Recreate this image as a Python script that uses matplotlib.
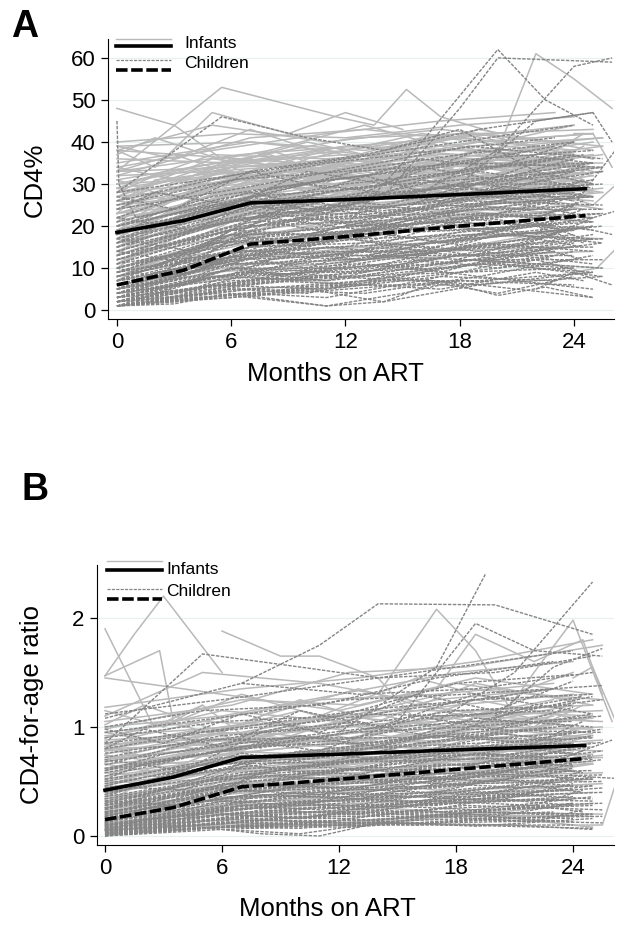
import matplotlib
matplotlib.use('Agg')
import matplotlib.pyplot as plt
from matplotlib.lines import Line2D

plt.rcParams['font.family'] = ['Liberation Sans', 'DejaVu Sans']

FIG_W = 629
FIG_H = 931

# visit schedules, months on ART
visits = [
	[0, 6, 12, 18, 24],
	[0, 7, 13, 19, 25],
	[0, 5, 11, 17, 23],
	[0, 6.5, 12.5, 18.5, 25.5],
]
visits_long = [
	[0, 3, 7, 11, 16, 20, 24],
	[0, 2, 6, 10, 14, 19, 25],
	[0, 4, 8, 13, 17, 22, 24.5],
]

# panel A, CD4% at each visit
infants_a = [
	[40,42,41,44,46],[39,40,38,42,43],[38,44,40,43,40],[38,36,41,42,39],[36,35,39,41,44],
	[35,40,37,40,42],[34,38,42,45,47],[33,37,39,38,41],[33,34,36,41,38],[32,41,43,40,42],
	[32,33,35,37,36],[31,36,34,39,41],[30,35,38,42,37],[30,32,37,36,40],[29,37,36,38,38],
	[29,33,33,35,39],[28,34,39,37,35],[28,31,35,40,36],[27,36,33,36,34],[27,30,34,33,37],
	[26,35,37,35,40],[26,32,32,38,33],[25,29,36,34,36],[25,33,31,35,35],[24,34,35,32,38],
	[24,30,33,37,32],[23,28,31,33,36],[23,32,34,31,34],[22,31,30,36,35],[22,27,35,34,30],
	[21,33,29,32,37],[21,29,32,30,33],[20,26,33,35,31],[20,30,28,34,34],[19,31,34,29,36],
	[19,25,30,33,28],[18,28,27,31,35],[18,27,31,28,32],[17,29,26,32,30],[17,24,29,30,33],
	[16,28,32,27,31],[16,23,28,31,27],[15,26,25,29,32],[15,25,30,26,29],[14,22,27,30,28],
	[14,24,24,28,26],[13,21,26,25,30],[13,23,23,29,24],[12,20,25,27,27],[12,19,22,24,25],
	[11,21,24,26,23],[10,18,20,25,28],[10,17,21,22,24],[9,16,19,23,21],[8,15,18,20,22],
	[8,14,15,18,17],[7,12,14,17,19],[6,11,12,13,14],[5,9,11,14,15],[4,8,6,12,10],
]
infants_a_long = [
	[39,36,43,37,42,40,44],[37,41,35,40,36,43,38],[34,30,38,44,39,35,42],[33,37,31,35,41,37,40],
	[31,28,36,33,38,42,36],[30,34,37,30,35,33,39],[29,26,33,38,32,37,34],[28,32,29,36,40,34,37],
	[27,33,36,31,34,39,33],[26,24,31,35,30,36,38],[26,30,34,28,37,32,35],[25,27,35,33,29,35,31],
	[24,29,27,34,36,30,36],[23,31,33,29,32,38,34],[23,25,30,36,33,28,32],[22,26,32,27,35,34,37],
	[21,28,25,32,31,36,30],[20,24,31,34,28,33,35],[20,27,29,26,33,30,32],[19,22,28,31,35,29,34],
	[18,25,30,27,29,34,31],[18,21,26,33,30,27,33],[17,23,29,25,32,31,28],[16,20,27,30,26,33,30],
	[16,24,25,28,31,28,34],[15,19,28,26,29,32,27],[14,22,24,29,27,30,33],[14,18,26,23,30,26,29],
	[13,20,23,27,25,31,28],[12,17,25,24,28,27,30],[11,19,22,26,24,29,26],[10,16,21,23,27,25,31],
	[9,14,20,25,22,26,24],[8,13,17,21,24,23,28],[7,12,18,16,21,24,22],[5,10,13,15,14,18,20],
]
infants_a_x = [[0,5.5,11.5,13.5,15.2,17,20],[0,3,5.5,8,11,14],[18,20,22,24,26],[0,2,5,9,12,15],[24,25,26],[23,25,26.5],[24,25.2,26.5]]
infants_a_y = [[33,53,46,44,52.5,46,42],[48,44,36,38,34,37],[38,38,61,55,48],[38,34,47,42,47,43],[42,42,34],[28,25,31],[9,10,16]]

children_a = [
	[28,32,36,40,44],[26,33,37,43,47],[25,30,35,38,41],[24,29,34,39,36],[22,31,33,37,40],
	[21,28,32,36,38],[20,27,31,34,39],[20,26,33,35,34],[19,25,30,33,37],[18,27,29,34,35],
	[18,24,28,32,36],[17,26,27,30,34],[17,23,29,31,33],[16,22,26,31,35],[16,25,24,29,32],
	[15,24,27,28,33],[15,21,25,30,30],[14,23,24,27,31],[14,20,26,29,28],[13,22,23,28,30],
	[13,19,24,26,29],[12,21,22,27,27],[12,18,25,24,28],[11,20,21,26,25],[11,19,23,25,28],
	[10,18,20,25,27],[10,17,22,23,26],[10,16,19,24,24],[9,18,18,22,25],[9,15,21,23,22],
	[9,16,17,20,26],[8,17,19,22,23],[8,14,20,21,24],[8,15,16,19,21],[7,16,18,21,20],
	[7,13,19,20,23],[7,14,15,22,19],[6,15,17,18,22],[6,12,16,20,18],[6,13,14,17,20],
	[6,11,18,19,21],[5,14,13,18,17],[5,12,15,16,19],[5,10,14,19,16],[5,11,12,15,18],
	[4,13,12,17,20],[4,10,14,14,16],[4,9,11,15,17],[4,12,13,13,15],[4,8,10,16,14],
	[3,11,11,14,18],[3,9,13,12,16],[3,10,9,13,13],[3,7,12,15,15],[3,8,10,11,14],
	[3,9,8,12,12],[2,10,10,13,15],[2,7,9,14,11],[2,8,7,10,13],[2,6,9,12,10],
	[2,7,8,9,12],[2,5,7,11,9],[1,8,9,10,14],[1,6,8,12,8],[1,5,6,9,10],
	[1,4,7,7,9],[1,6,5,8,7],[1,4,6,6,8],[1,3,5,7,6],[1,5,4,8,5],
]
children_a_long = [
	[27,24,33,29,36,34,40],[24,28,25,33,30,38,35],[22,19,29,32,27,35,37],[20,23,28,24,34,31,36],
	[18,22,26,30,28,33,29],[17,14,24,28,26,32,34],[16,20,27,23,31,28,33],[15,18,22,27,25,30,27],
	[14,11,23,20,28,26,31],[13,17,25,22,24,29,26],[12,15,20,26,23,27,30],[11,14,22,19,25,24,28],
	[10,13,18,24,21,26,23],[10,8,19,22,20,25,27],[9,12,21,17,23,22,26],[8,11,17,20,24,19,25],
	[8,10,19,18,16,23,21],[7,9,16,21,19,20,24],[7,12,14,17,22,18,20],[6,8,18,15,20,22,19],
	[6,10,13,19,16,21,17],[5,7,15,18,14,19,22],[5,9,12,16,18,15,20],[4,8,14,12,17,20,16],
	[4,6,11,15,13,18,19],[4,7,13,10,16,14,18],[3,5,12,14,11,17,15],[3,6,9,13,15,12,16],
	[3,4,10,8,14,13,17],[2,5,8,11,9,15,12],[2,3,9,7,12,10,14],[2,4,6,9,11,8,13],
	[2,5,7,6,10,12,9],[1,3,6,8,7,11,10],[1,2,5,4,8,6,9],[1,3,4,6,5,9,7],
	[1,2,4,3,7,4,8],[1,2,3,5,2,6,3],
]
children_a_x = [[0,0.1,1,3],[0,5.5,10,14,18,22,25],[12,16,20,22.5,25],[14,18,20,26],[16,20,24,26],[18,22,25,26],[0,5,11,15,18],[0,3,6,11,14,17,20,22.5,25],[20,23,25,26.5],[21,24,26],[22,24,26.5],[22,24,26]]
children_a_y = [[45,30,22,24],[28,46,41,38,43,33,30],[20,40,62,50,44],[27,48,60,59],[28,38,58,60],[30,45,47,40],[2,4,1,4,7],[1,1.5,4,1,2,7,3.5,5.5,3],[14,18,22,24],[15,20,18],[18,25,40],[5,9,6]]

# panel B, CD4-for-age ratio at each visit
infants_b = [
	[1.45,1.3,1.15,1.4,1.25],[1.18,1.35,1.45,1.6,1.8],[1.1,1.5,1.4,1.2,1.35],[1.05,1.2,1.5,1.55,1.75],[1.0,1.1,1.3,1.5,1.6],
	[0.98,1.25,1.2,1.45,1.3],[0.95,1.05,1.25,1.3,1.4],[0.92,1.0,1.1,1.35,1.25],[0.9,1.15,1.05,1.2,1.3],[0.88,0.95,1.15,1.15,1.2],
	[0.85,1.05,1.0,1.25,1.35],[0.84,0.9,1.0,1.1,1.15],[0.82,0.98,1.1,1.0,1.2],[0.8,0.85,0.95,1.15,1.1],[0.8,0.92,1.0,1.05,1.25],
	[0.78,0.88,0.9,1.1,1.05],[0.75,0.95,0.85,0.98,1.15],[0.72,0.82,0.95,1.0,0.98],[0.7,0.8,0.88,0.92,1.1],[0.68,0.9,0.8,0.95,1.0],
	[0.66,0.75,0.85,0.88,0.95],[0.62,0.72,0.8,1.0,0.9],[0.6,0.78,0.75,0.85,1.02],[0.58,0.7,0.82,0.8,0.88],[0.55,0.68,0.72,0.9,0.85],
	[0.52,0.74,0.7,0.78,0.92],[0.5,0.65,0.78,0.75,0.8],[0.48,0.6,0.68,0.82,0.78],[0.46,0.7,0.65,0.72,0.85],[0.44,0.62,0.72,0.7,0.75],
	[0.42,0.58,0.62,0.76,0.82],[0.4,0.55,0.7,0.68,0.72],[0.38,0.6,0.6,0.65,0.8],[0.36,0.52,0.58,0.72,0.68],[0.34,0.5,0.65,0.6,0.7],
	[0.32,0.48,0.55,0.62,0.74],[0.3,0.55,0.52,0.58,0.64],[0.28,0.45,0.5,0.6,0.66],[0.26,0.42,0.56,0.52,0.62],[0.24,0.4,0.48,0.55,0.58],
	[0.22,0.38,0.45,0.5,0.6],[0.2,0.36,0.42,0.48,0.52],[0.18,0.35,0.38,0.46,0.55],[0.16,0.3,0.36,0.42,0.48],[0.14,0.28,0.32,0.38,0.42],
	[0.12,0.25,0.3,0.34,0.4],[0.1,0.2,0.22,0.3,0.34],[0.08,0.15,0.12,0.22,0.2],[0.06,0.1,0.1,0.18,0.18],[0.05,0.12,0.09,0.2,0.08],
]
infants_b_long = [
	[1.15,1.0,1.3,1.1,1.45,1.25,1.5],[1.02,1.2,0.95,1.25,1.05,1.4,1.2],[0.95,0.82,1.1,1.35,1.15,1.0,1.3],[0.9,1.05,0.88,1.0,1.2,1.1,1.15],
	[0.86,0.72,0.98,1.15,0.95,1.25,1.05],[0.82,0.95,1.05,0.88,1.1,0.98,1.2],[0.8,0.7,0.9,1.08,0.92,1.15,1.0],[0.78,0.88,0.82,0.98,1.12,0.9,1.1],
	[0.74,0.66,0.95,0.85,1.0,1.08,0.95],[0.7,0.82,0.78,1.0,0.88,1.05,0.9],[0.66,0.6,0.85,0.92,0.8,1.0,1.08],[0.62,0.76,0.9,0.78,0.95,0.86,1.0],
	[0.58,0.54,0.8,0.88,0.76,0.95,0.85],[0.54,0.7,0.74,0.82,0.9,0.8,0.94],[0.5,0.48,0.72,0.68,0.85,0.76,0.9],[0.46,0.62,0.68,0.76,0.7,0.88,0.78],
	[0.42,0.44,0.75,0.64,0.78,0.7,0.86],[0.38,0.56,0.6,0.72,0.66,0.82,0.72],[0.34,0.4,0.64,0.58,0.74,0.68,0.8],[0.3,0.5,0.52,0.66,0.6,0.76,0.66],
	[0.26,0.34,0.58,0.5,0.68,0.56,0.72],[0.22,0.42,0.46,0.6,0.52,0.7,0.6],[0.18,0.28,0.5,0.44,0.6,0.5,0.66],[0.14,0.3,0.36,0.5,0.42,0.58,0.5],
	[0.1,0.18,0.3,0.36,0.32,0.4,0.46],[0.06,0.12,0.2,0.16,0.26,0.2,0.3],
]
infants_b_x = [[0,2.5,5,8],[0,2.8,3.5,5],[0,1.5,3,6],[6,9,11,14,16],[14,17,19,21],[20,22,24,26],[24,25,26.5],[0,6,11,14,18,23],[17,19,22,24.5,25.5],[24,25.5,26.5]]
infants_b_y = [[1.9,1.0,1.2,0.8],[1.47,1.7,1.05,1.2],[1.47,1.85,2.2,1.5],[1.88,1.65,1.65,1.45,1.05],[1.3,2.08,1.7,1.1],[1.0,1.5,1.98,1.05],[1.45,1.55,0.92],[0.12,0.08,0.1,0.15,0.2,0.18],[1.35,1.85,1.6,1.8,1.3],[0.1,0.1,0.65]]

children_b = [
	[1.12,1.25,1.4,1.55,1.7],[1.08,1.4,1.3,1.35,1.5],[1.0,1.15,1.2,1.45,1.6],[0.95,1.1,1.25,1.3,1.38],[0.9,1.05,1.1,1.4,1.48],
	[0.85,1.0,1.15,1.25,1.3],[0.8,0.95,1.05,1.2,1.35],[0.76,0.9,1.12,1.1,1.25],[0.72,0.92,1.0,1.15,1.2],[0.68,0.85,0.98,1.05,1.28],
	[0.65,0.88,0.9,1.1,1.15],[0.62,0.8,0.95,1.0,1.1],[0.6,0.78,0.88,1.05,1.05],[0.58,0.82,0.85,0.95,1.12],[0.55,0.75,0.9,0.9,1.0],
	[0.52,0.7,0.82,0.98,0.95],[0.5,0.72,0.78,0.88,1.02],[0.48,0.68,0.8,0.85,0.9],[0.46,0.65,0.72,0.92,0.88],[0.44,0.62,0.75,0.8,0.98],
	[0.42,0.66,0.68,0.82,0.85],[0.4,0.58,0.7,0.75,0.92],[0.38,0.6,0.65,0.78,0.8],[0.36,0.55,0.68,0.7,0.86],[0.34,0.52,0.6,0.74,0.76],
	[0.32,0.56,0.62,0.66,0.82],[0.3,0.5,0.58,0.7,0.72],[0.29,0.48,0.6,0.62,0.78],[0.28,0.45,0.52,0.66,0.68],[0.26,0.5,0.55,0.58,0.74],
	[0.25,0.42,0.5,0.62,0.66],[0.24,0.46,0.48,0.56,0.7],[0.22,0.4,0.52,0.52,0.62],[0.21,0.44,0.45,0.58,0.6],[0.2,0.38,0.48,0.5,0.65],
	[0.19,0.36,0.42,0.54,0.56],[0.18,0.4,0.44,0.46,0.6],[0.17,0.34,0.4,0.5,0.52],[0.16,0.32,0.42,0.44,0.58],[0.15,0.36,0.36,0.48,0.5],
	[0.14,0.3,0.38,0.4,0.54],[0.13,0.28,0.34,0.44,0.46],[0.12,0.32,0.32,0.38,0.5],[0.11,0.26,0.36,0.36,0.44],[0.1,0.24,0.3,0.4,0.42],
	[0.09,0.28,0.28,0.34,0.46],[0.09,0.22,0.32,0.32,0.38],[0.08,0.25,0.26,0.36,0.4],[0.07,0.2,0.28,0.3,0.36],[0.07,0.22,0.22,0.34,0.32],
	[0.06,0.18,0.26,0.28,0.42],[0.05,0.2,0.2,0.26,0.3],[0.05,0.16,0.24,0.3,0.34],[0.04,0.18,0.18,0.24,0.28],[0.04,0.14,0.22,0.22,0.26],
	[0.03,0.16,0.16,0.28,0.24],[0.03,0.12,0.2,0.2,0.3],[0.02,0.14,0.14,0.22,0.2],[0.02,0.1,0.18,0.18,0.22],[0.02,0.12,0.12,0.16,0.18],
	[0.01,0.08,0.14,0.18,0.16],[0.01,0.1,0.1,0.14,0.2],[0.01,0.07,0.12,0.12,0.14],[0.0,0.09,0.08,0.15,0.12],[0.0,0.06,0.1,0.1,0.1],
]
children_b_long = [
	[0.98,0.85,1.12,0.95,1.3,1.15,1.42],[0.8,0.98,0.82,1.15,1.0,1.3,1.12],[0.7,0.6,0.95,1.05,0.9,1.2,1.28],[0.6,0.75,0.88,0.78,1.1,0.98,1.18],
	[0.52,0.66,0.78,0.92,0.82,1.08,1.0],[0.46,0.42,0.7,0.82,0.92,0.85,1.05],[0.4,0.55,0.76,0.66,0.85,0.94,0.88],[0.36,0.48,0.62,0.78,0.7,0.88,0.96],
	[0.32,0.28,0.58,0.68,0.76,0.72,0.84],[0.28,0.42,0.66,0.56,0.72,0.82,0.76],[0.25,0.36,0.5,0.64,0.6,0.76,0.7],[0.22,0.3,0.56,0.5,0.66,0.62,0.78],
	[0.2,0.34,0.44,0.58,0.54,0.7,0.64],[0.18,0.24,0.48,0.46,0.6,0.56,0.72],[0.16,0.28,0.4,0.52,0.48,0.64,0.58],[0.14,0.2,0.42,0.38,0.54,0.5,0.66],
	[0.12,0.25,0.34,0.46,0.42,0.58,0.52],[0.1,0.16,0.38,0.34,0.48,0.44,0.6],[0.09,0.2,0.3,0.4,0.36,0.52,0.46],[0.08,0.14,0.32,0.28,0.42,0.38,0.54],
	[0.07,0.18,0.26,0.34,0.3,0.46,0.4],[0.06,0.12,0.28,0.24,0.36,0.32,0.48],[0.05,0.15,0.22,0.3,0.26,0.4,0.34],[0.05,0.1,0.24,0.2,0.32,0.28,0.42],
	[0.04,0.12,0.18,0.26,0.22,0.34,0.28],[0.03,0.08,0.2,0.16,0.28,0.24,0.36],[0.03,0.1,0.14,0.22,0.18,0.28,0.22],[0.02,0.06,0.16,0.12,0.24,0.18,0.3],
	[0.02,0.08,0.11,0.18,0.14,0.22,0.18],[0.01,0.05,0.12,0.09,0.18,0.13,0.24],[0.01,0.06,0.09,0.13,0.1,0.17,0.13],[0.0,0.04,0.08,0.07,0.13,0.09,0.16],
]
children_b_x = [[0,5,10,14,20,25],[7,11,14,20,25],[12,17,19.5],[15,19,22,25.5],[17,21,25],[20,23,25.5],[0,5,7,10,14,18,25],[0,5,8,11,14,21,25],[24,26],[24,27]]
children_b_y = [[0.85,1.67,1.55,1.45,1.5,1.65],[1.4,1.75,2.13,2.12,1.85],[0.95,1.55,2.4],[1.05,1.95,1.7,1.65],[1.05,1.5,2.33],[1.1,1.55,1.72],[0.02,0.07,0.05,0.02,0.12,0.1,0.07],[0.03,0.08,0.02,0.0,0.12,0.1,0.06],[0.75,0.88],[0.55,0.52]]

# group means
mean_x = [0, 3.5, 7, 12, 18, 24.6]
mean_infants_a = [18.5, 21.3, 25.5, 26.3, 27.5, 28.9]
mean_children_a = [6, 9.5, 15.7, 17.5, 20, 22.5]
mean_infants_b = [0.42, 0.54, 0.72, 0.75, 0.79, 0.83]
mean_children_b = [0.15, 0.26, 0.45, 0.52, 0.61, 0.71]

LIGHT = '#b9b9b9'
DARK = '#858585'
GRID = '#e8f1f2'
CHILD_LS = (0, (2.5, 1.0))


def px_axes(left, top, right, bottom):
	return fig.add_axes([left/FIG_W, 1-bottom/FIG_H, (right-left)/FIG_W, (bottom-top)/FIG_H])


def fig_text(x, y, s, **kw):
	fig.text(x/FIG_W, 1-y/FIG_H, s, va='center', **kw)


def key_line(x0, x1, y, **kw):
	fig.add_artist(Line2D([x0/FIG_W, x1/FIG_W], [1-y/FIG_H, 1-y/FIG_H], **kw))


def draw_group(ax, rows, rows_long, extra_x, extra_y, z, **style):
	for i, row in enumerate(rows):
		ax.plot(visits[i % 4], row, zorder=z, **style)
	for i, row in enumerate(rows_long):
		ax.plot(visits_long[i % 3], row, zorder=z, **style)
	for xs, ys in zip(extra_x, extra_y):
		ax.plot(xs, ys, zorder=z, **style)


def style_axes(ax):
	ax.spines['top'].set_visible(False)
	ax.spines['right'].set_visible(False)
	ax.set_xticks([0, 6, 12, 18, 24])
	ax.tick_params(length=5, width=0.9, labelsize=16, pad=4)
	ax.grid(axis='y', color=GRID, lw=0.9, zorder=0)
	ax.set_axisbelow(True)


fig = plt.figure(figsize=(FIG_W/100, FIG_H/100), dpi=100)

ax_a = px_axes(108, 39, 614, 319)
draw_group(ax_a, infants_a, infants_a_long, infants_a_x, infants_a_y, 2, color=LIGHT, lw=1.1)
draw_group(ax_a, children_a, children_a_long, children_a_x, children_a_y, 3, color=DARK, lw=1.0, ls=CHILD_LS)
ax_a.plot(mean_x, mean_infants_a, color='black', lw=2.6, zorder=5)
ax_a.plot(mean_x, mean_children_a, color='black', lw=2.6, ls=(0, (3.2, 1.0)), zorder=5)
style_axes(ax_a)
ax_a.set_xlim(-0.47, 26.1)
ax_a.set_ylim(-2.1, 64.5)
ax_a.set_yticks([0, 10, 20, 30, 40, 50, 60])

ax_b = px_axes(97, 565, 614, 845)
draw_group(ax_b, infants_b, infants_b_long, infants_b_x, infants_b_y, 2, color=LIGHT, lw=1.1)
draw_group(ax_b, children_b, children_b_long, children_b_x, children_b_y, 3, color=DARK, lw=1.0, ls=CHILD_LS)
ax_b.plot(mean_x, mean_infants_b, color='black', lw=2.6, zorder=5)
ax_b.plot(mean_x, mean_children_b, color='black', lw=2.6, ls=(0, (3.2, 1.0)), zorder=5)
style_axes(ax_b)
ax_b.set_xlim(-0.41, 26.1)
ax_b.set_ylim(-0.083, 2.486)
ax_b.set_yticks([0, 1, 2])

# legends
key_line(116, 171, 39, color=LIGHT, lw=1.0)
key_line(116, 171, 46, color='black', lw=2.6)
key_line(116, 171, 60, color=DARK, lw=0.9, ls=CHILD_LS)
key_line(116, 171, 70, color='black', lw=2.6, ls=(0, (3.2, 1.0)))
fig_text(184, 43, 'Infants', fontsize=12.5)
fig_text(184, 64, 'Children', fontsize=12.5)

key_line(107, 162, 561, color=LIGHT, lw=1.0)
key_line(107, 162, 570, color='black', lw=2.6)
key_line(107, 162, 589, color=DARK, lw=0.9, ls=CHILD_LS)
key_line(107, 162, 599, color='black', lw=2.6, ls=(0, (3.2, 1.0)))
fig_text(166, 570, 'Infants', fontsize=12.5)
fig_text(166, 591, 'Children', fontsize=12.5)

# labels
fig_text(335, 374, 'Months on ART', fontsize=18.5, ha='center')
fig_text(327, 909, 'Months on ART', fontsize=18.5, ha='center')
fig_text(35, 180, 'CD4%', fontsize=18.5, rotation=90, ha='center')
fig_text(32, 704, 'CD4-for-age ratio', fontsize=18.5, rotation=90, ha='center')
fig_text(11, 27, 'A', fontsize=27, fontweight='bold', ha='left')
fig_text(21, 490, 'B', fontsize=27, fontweight='bold', ha='left')

fig.savefig('out.png', dpi=100)
